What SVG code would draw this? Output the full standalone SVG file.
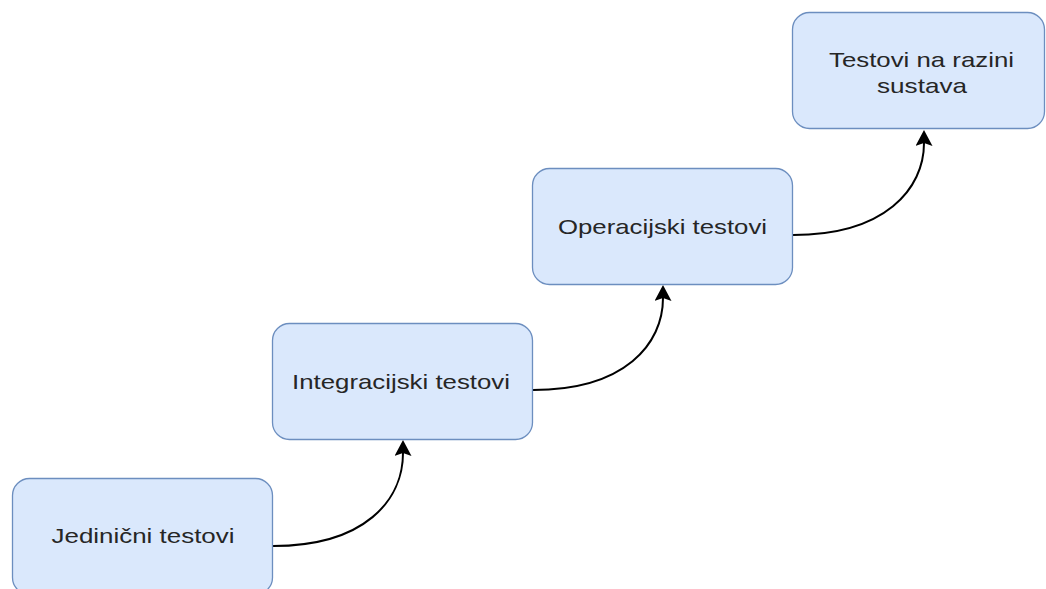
<svg xmlns="http://www.w3.org/2000/svg" width="1046" height="589" viewBox="0 0 1046 589">
<style>
.box{fill:#dae8fc;stroke:#6c8ebf;stroke-width:1.3}
.lbl{font-family:"Liberation Sans",Arial,sans-serif;font-size:21px;fill:#262626;text-anchor:middle}
.edge{fill:none;stroke:#000;stroke-width:2}
</style>
<defs>
<marker id="arr" viewBox="0 0 16 17" refX="3" refY="8.5" markerWidth="16" markerHeight="17" markerUnits="userSpaceOnUse" orient="auto">
<path d="M16,8.5 L0,0 L3,8.5 L0,17 Z" fill="#000"/>
</marker>
</defs>
<rect width="1046" height="589" fill="#fff"/>
<g id="connectors">
<path class="edge" marker-end="url(#arr)" d="M273,546 C365,546 403,500 403,453"/>
<path class="edge" marker-end="url(#arr)" d="M533,390 C625,390 663,344 663,298"/>
<path class="edge" marker-end="url(#arr)" d="M793,235 C885,235 924,189 924,143"/>
</g>
<g id="node-jedinicni">
<rect class="box" x="12.5" y="478.5" width="260" height="116" rx="17"/>
<text class="lbl" x="143" y="543" textLength="183" lengthAdjust="spacingAndGlyphs">Jedinični testovi</text>
</g>
<g id="node-integracijski">
<rect class="box" x="272.5" y="323.5" width="260" height="116" rx="17"/>
<text class="lbl" x="401" y="388.5" textLength="218" lengthAdjust="spacingAndGlyphs">Integracijski testovi</text>
</g>
<g id="node-operacijski">
<rect class="box" x="532.5" y="168.5" width="260" height="116" rx="17"/>
<text class="lbl" x="662.5" y="234" textLength="209" lengthAdjust="spacingAndGlyphs">Operacijski testovi</text>
</g>
<g id="node-sustav">
<rect class="box" x="792.5" y="12.5" width="252" height="116" rx="17"/>
<text class="lbl" x="921.5" y="67.3" textLength="185" lengthAdjust="spacingAndGlyphs">Testovi na razini</text>
<text class="lbl" x="922" y="93.3" textLength="90" lengthAdjust="spacingAndGlyphs">sustava</text>
</g>
</svg>
